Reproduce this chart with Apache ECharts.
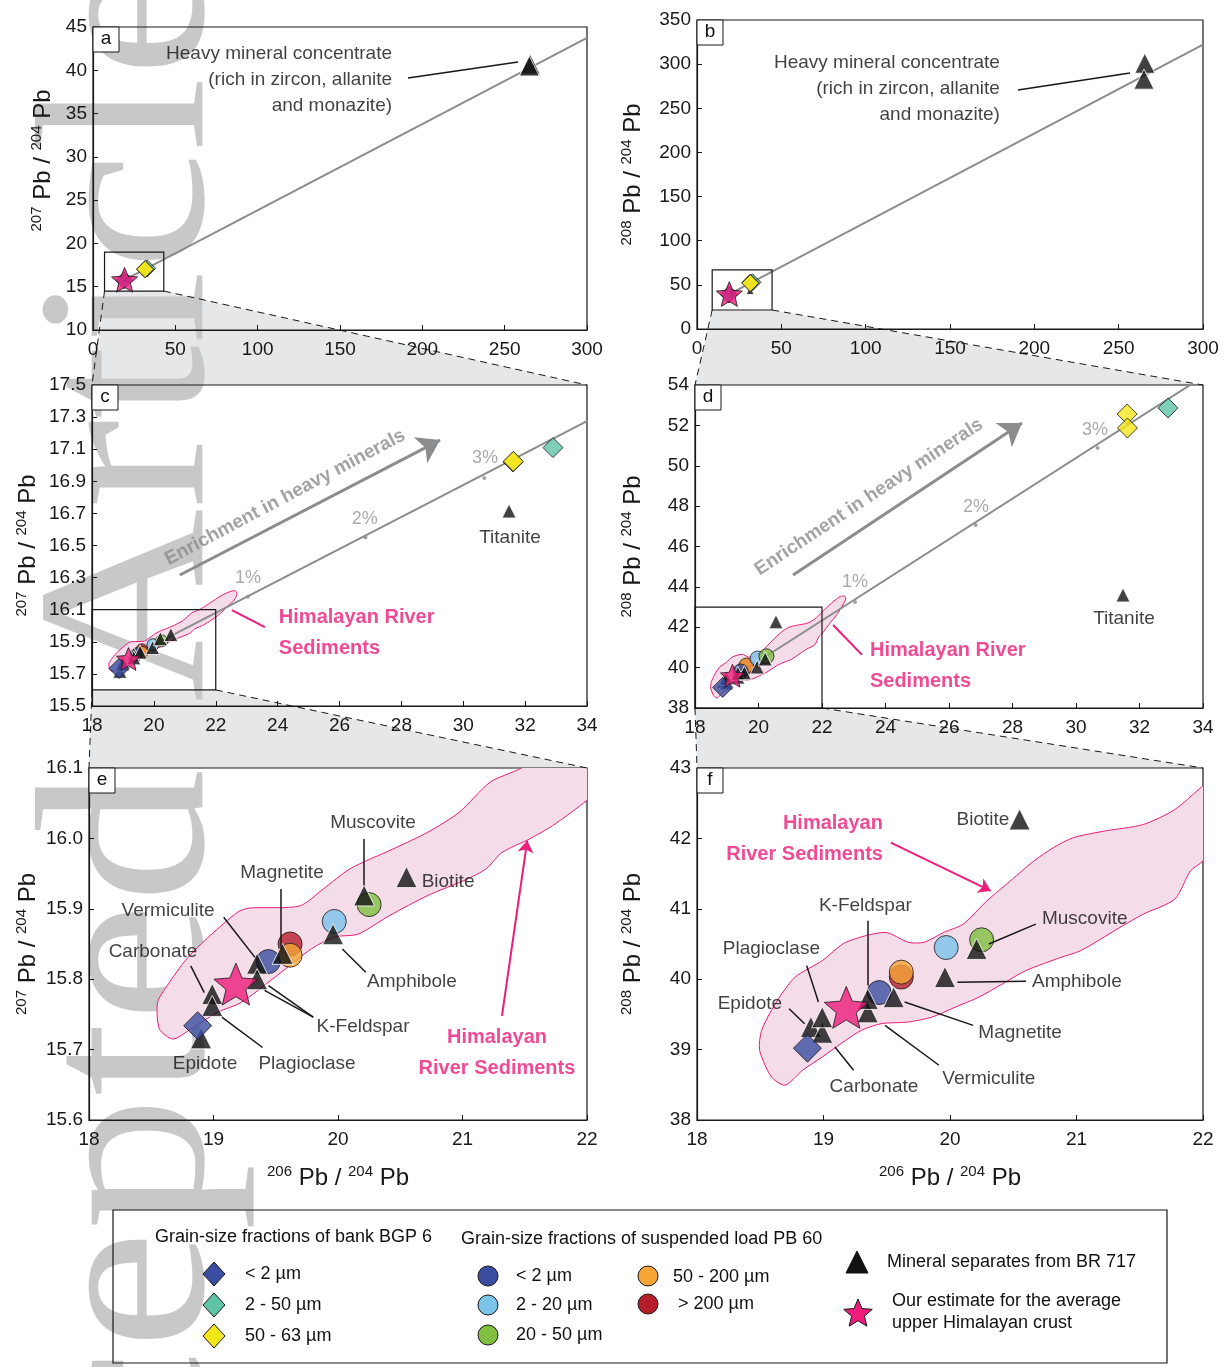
<!DOCTYPE html>
<html>
<head>
<meta charset="utf-8">
<script src="https://cdn.jsdelivr.net/npm/echarts@6/dist/echarts.min.js"></script>
<style>
  html, body { margin: 0; padding: 0; background: #fff; }
  #main { width: 1225px; height: 1367px; }
</style>
</head>
<body>
<div id="main"></div>
<script>
// ---- data (206Pb/204Pb, 207Pb/204Pb, 208Pb/204Pb) ----
// mineral separates from BR 717
var mineralNames = ['Epidote', 'Carbonate', 'Plagioclase', 'Vermiculite', 'K-Feldspar', 'Magnetite',
                    'Amphibole', 'Muscovite', 'Biotite', 'Titanite', 'Concentrate', 'Concentrate'];
var mineral206 = [18.90, 18.99, 18.99, 19.35, 19.35, 19.555, 19.96, 20.21, 20.55, 31.48, 265.5, 265.0];
var mineral207 = [15.716, 15.779, 15.762, 15.822, 15.800, 15.836, 15.864, 15.919, 15.945, 16.715, 40.7, 40.5];
var mineral208 = [39.32, 39.24, 39.46, 39.53, 39.72, 39.745, 40.03, 40.43, 42.27, 43.60, 301, 283];

// grain-size fractions of bank BGP 6
var bankSizes = ['< 2 µm', '2 - 50 µm', '50 - 63 µm', '50 - 63 µm'];
var bank206 = [18.873, 32.90, 31.61, 31.62];
var bank207 = [15.734, 17.110, 17.020, 17.025];
var bank208 = [39.02, 52.86, 52.56, 51.87];

// grain-size fractions of suspended load PB 60
var suspSizes = ['> 200 µm', '50 - 200 µm', '< 2 µm', '2 - 20 µm', '20 - 50 µm'];
var susp206 = [19.615, 19.615, 19.44, 19.97, 20.25];
var susp207 = [15.850, 15.834, 15.825, 15.882, 15.906];
var susp208 = [40.03, 40.10, 39.81, 40.45, 40.56];

// estimate for the average upper Himalayan crust
var crust206 = [19.18];
var crust207 = [15.793];
var crust208 = [39.60];

// mixing line towards the heavy mineral concentrate
var mix206 = [19.18, 300];
var mix207 = [15.80, 43.75];
var mix208 = [39.50, 322];
var mixPct = ['1%', '2%', '3%'];
var mixPct206 = [23.04, 26.84, 30.68];
var mixPct207 = [16.18, 16.55, 16.92];
var mixPct208 = [43.25, 47.07, 50.88];

// Himalayan river sediments envelope
var field206a = [18.676, 18.566, 18.551, 18.629, 18.785, 18.973, 19.192, 19.285, 19.692, 19.880, 20.098, 20.442,
                 20.723, 20.973, 21.223, 21.473, 21.80, 22.20, 22.50, 22.64, 22.68, 22.60, 22.40, 22.20, 22.00,
                 21.723, 21.536, 21.317, 21.192, 21.035, 20.723, 20.410, 20.161, 19.973, 19.786, 19.473,
                 19.223, 19.035, 18.816];
var field207 = [15.715, 15.729, 15.767, 15.791, 15.829, 15.862, 15.895, 15.901, 15.904, 15.928, 15.957, 15.985,
                16.009, 16.037, 16.080, 16.100, 16.140, 16.190, 16.215, 16.218, 16.195, 16.160, 16.125, 16.085,
                16.054, 16.018, 15.999, 15.980, 15.957, 15.942, 15.919, 15.890, 15.864, 15.860, 15.843, 15.800,
                15.767, 15.753, 15.729];
var field206b = [18.697, 18.588, 18.495, 18.511, 18.619, 18.774, 18.991, 19.176, 19.486, 19.672, 19.796, 19.950,
                 20.105, 20.291, 20.446, 20.663, 20.817, 20.972, 21.220, 21.529, 21.777, 21.994, 22.30, 22.55,
                 22.70, 22.75, 22.50, 22.20, 22.00, 21.901, 21.777, 21.529, 21.344, 21.034, 20.879, 20.601,
                 20.415, 20.229, 20.043, 19.858, 19.672, 19.455, 19.300, 19.176, 18.991, 18.836];
var field208 = [38.495, 38.613, 38.991, 39.274, 39.651, 40.028, 40.264, 40.524, 40.665, 40.524, 40.524, 40.665,
                40.783, 41.113, 41.349, 41.679, 41.868, 42.009, 42.104, 42.198, 42.410, 42.740, 43.20, 43.50,
                43.55, 43.40, 42.70, 42.10, 41.679, 41.538, 41.137, 40.925, 40.736, 40.406, 40.311, 40.123,
                39.934, 39.745, 39.604, 39.462, 39.392, 39.368, 39.274, 39.132, 38.896, 38.708];

// axis ticks per panel a..f
var xMin = [0, 0, 18, 18, 18, 18];
var xMax = [300, 300, 34, 34, 22, 22];
var xStep = [50, 50, 2, 2, 1, 1];
var yMin = [10, 0, 15.5, 38, 15.6, 38];
var yMax = [45, 350, 17.5, 54, 16.1, 43];
var yStep = [5, 50, 0.2, 2, 0.1, 1];
var yDigits = [0, 0, 1, 0, 1, 0];
var panelLetters = ['a', 'b', 'c', 'd', 'e', 'f'];

// ---- styling ----
var F = "'Liberation Sans', Arial, sans-serif";
var INK = '#1a1718';
var C = {
  navy: '#3b4da0', teal: '#5fc3a6', yellow: '#f3e61b', sky: '#7cc3ea', green: '#80bf40',
  orange: '#f6a436', red: '#b51f2a', pink: '#ec1d7b', fill: '#f4dce8', grey: '#8b8c8e', wedge: '#e6e7e8'
};
var bankColor = {'< 2 µm': C.navy, '2 - 50 µm': C.teal, '50 - 63 µm': C.yellow};
var suspColor = {'< 2 µm': C.navy, '2 - 20 µm': C.sky, '20 - 50 µm': C.green, '50 - 200 µm': C.orange, '> 200 µm': C.red};
var STAR = 'path://M0,-50 L13.22,-18.2 L47.55,-15.45 L21.4,6.95 L29.39,40.45 L0,22.5 L-29.39,40.45 L-21.4,6.95 L-47.55,-15.45 L-13.22,-18.2 Z';

var grids = [
  {left: 93, top: 27, width: 494, height: 303},
  {left: 697, top: 20, width: 506, height: 309},
  {left: 92, top: 385, width: 495, height: 321},
  {left: 695, top: 385, width: 508, height: 323},
  {left: 89, top: 768, width: 498, height: 352},
  {left: 697, top: 768, width: 506, height: 352}
];
var yNameGap = [36, 50, 50, 48, 47, 50];
var yNamePad = [[0, 0, 0, 36], 0, 0, 0, 0, 0];
var sizes = [
  {tri: 8, big: 20, dia: 17, cir: 8, star: 26},
  {tri: 8, big: 20, dia: 17, cir: 8, star: 26},
  {tri: 14, big: 14, dia: 20, cir: 12, star: 24},
  {tri: 14, big: 14, dia: 20, cir: 15, star: 24},
  {tri: 21, big: 21, dia: 28, cir: 24, star: 44},
  {tri: 21, big: 21, dia: 28, cir: 24, star: 44}
];

var RICH = {
  s: {fontFamily: F, fontSize: 15, color: INK, verticalAlign: 'top', lineHeight: 28},
  p: {fontFamily: F, fontSize: 24, color: INK, lineHeight: 28}
};
function ratioName(top) { return '{s|' + top + '}{p| Pb / }{s|204}{p| Pb}'; }

var chart = echarts.init(document.getElementById('main'));

var gridOpts = [], xAxes = [], yAxes = [], series = [];
for (var i = 0; i < 6; i++) {
  gridOpts.push(Object.assign({show: true, borderColor: INK, borderWidth: 1.2, outerBoundsMode: 'none'}, grids[i]));
  var xa = {
    gridIndex: i, type: 'value', min: xMin[i], max: xMax[i], interval: xStep[i],
    axisLine: {show: true, onZero: false, lineStyle: {color: INK, width: 1.2}},
    axisTick: {show: true, inside: true, length: 5, lineStyle: {color: INK}},
    splitLine: {show: false},
    axisLabel: {fontFamily: F, fontSize: 19, color: INK, margin: 10, showMinLabel: true, showMaxLabel: true}
  };
  if (i >= 4) {
    xa.name = ratioName('206');
    xa.nameLocation = 'middle';
    xa.nameGap = 44;
    xa.nameTextStyle = {rich: RICH};
  }
  xAxes.push(xa);
  (function (d) {
    yAxes.push({
      gridIndex: i, type: 'value', min: yMin[i], max: yMax[i], interval: yStep[i],
      name: ratioName(i % 2 ? '208' : '207'), nameLocation: 'middle', nameGap: yNameGap[i], nameRotate: 90,
      nameTextStyle: {rich: RICH, padding: yNamePad[i]},
      axisLine: {show: true, onZero: false, lineStyle: {color: INK, width: 1.2}},
      axisTick: {show: true, inside: true, length: 5, lineStyle: {color: INK}},
      splitLine: {show: false},
      axisLabel: {fontFamily: F, fontSize: 19, color: INK, margin: 6, showMinLabel: true, showMaxLabel: true,
        formatter: function (v) { return v.toFixed(d); }}
    });
  })(yDigits[i]);
}

function pairs(xs, ys) { return xs.map(function (x, k) { return [x, ys[k]]; }); }

function fieldSeries(i, fx, fy) {
  return {
    type: 'custom', xAxisIndex: i, yAxisIndex: i, clip: true, z: 1, silent: true,
    data: [[fx[0], fy[0]]],
    renderItem: function (params, api) {
      var pts = [];
      for (var k = 0; k < fx.length; k++) pts.push(api.coord([fx[k], fy[k]]));
      return {type: 'polygon', shape: {points: pts, smooth: 0.25},
              style: {fill: C.fill, stroke: C.pink, lineWidth: 1}};
    }
  };
}

function panelSeries(i) {
  var is208 = i % 2 === 1;
  var sz = sizes[i];
  var mY = is208 ? mineral208 : mineral207;
  var bY = is208 ? bank208 : bank207;
  var sY = is208 ? susp208 : susp207;
  var cY = is208 ? crust208 : crust207;
  var out = [];
  out.push(fieldSeries(i, is208 ? field206b : field206a, is208 ? field208 : field207));
  if (i < 4) {
    out.push({type: 'line', xAxisIndex: i, yAxisIndex: i, z: 2, silent: true, showSymbol: false,
      lineStyle: {color: C.grey, width: 2}, data: pairs(mix206, is208 ? mix208 : mix207)});
  }
  if (i === 2 || i === 3) {
    out.push({type: 'scatter', xAxisIndex: i, yAxisIndex: i, z: 2, silent: true, symbol: 'circle', symbolSize: 4,
      itemStyle: {color: C.grey}, data: pairs(mixPct206, is208 ? mixPct208 : mixPct207)});
  }
  out.push({type: 'scatter', xAxisIndex: i, yAxisIndex: i, z: 3, symbol: 'circle', symbolSize: sz.cir,
    data: suspSizes.map(function (s, k) {
      return {name: s, value: [susp206[k], sY[k]], itemStyle: {color: suspColor[s], borderColor: INK, borderWidth: 1}};
    })});
  out.push({type: 'scatter', xAxisIndex: i, yAxisIndex: i, z: 4, symbol: 'triangle',
    symbolSize: function (v) { return v[0] > 100 ? sz.big : sz.tri; },
    itemStyle: {color: '#111', borderColor: '#fff', borderWidth: 1},
    data: mineralNames.map(function (s, k) { return {name: s, value: [mineral206[k], mY[k]]}; })});
  out.push({type: 'scatter', xAxisIndex: i, yAxisIndex: i, z: 5, symbol: 'diamond', symbolSize: sz.dia,
    data: bankSizes.map(function (s, k) {
      return {name: s, value: [bank206[k], bY[k]], itemStyle: {color: bankColor[s], borderColor: INK, borderWidth: 1}};
    })});
  out.push({type: 'scatter', xAxisIndex: i, yAxisIndex: i, z: 6, symbol: STAR, symbolKeepAspect: true,
    symbolSize: sz.star, itemStyle: {color: C.pink, borderColor: INK, borderWidth: 1},
    data: pairs(crust206, cY)});
  return out;
}

// annotations: [text, x, y, align, rotate]
function textSeries(i, items, style) {
  return {
    type: 'scatter', xAxisIndex: i, yAxisIndex: i, z: 8, silent: true, clip: false,
    symbolSize: 1, itemStyle: {color: 'rgba(0,0,0,0)'},
    data: items.map(function (t) {
      return {name: t[0], value: [t[1], t[2]], label: {align: t[3] || 'center', rotate: t[4] || 0}};
    }),
    label: Object.assign({show: true, position: 'inside', formatter: '{b}', fontFamily: F, fontSize: 19,
      color: '#111', verticalAlign: 'middle'}, style)
  };
}
function leaderSeries(i, segs, color, width, arrow) {
  return {
    type: 'lines', coordinateSystem: 'cartesian2d', xAxisIndex: i, yAxisIndex: i, z: 7, silent: true,
    symbol: arrow ? ['none', 'arrow'] : ['none', 'none'], symbolSize: arrow || 0,
    lineStyle: {color: color, width: width, opacity: 1, curveness: 0},
    data: segs.map(function (s) { return {coords: s}; })
  };
}

for (var p = 0; p < 6; p++) series = series.concat(panelSeries(p));

var pinkBold = {color: C.pink, fontWeight: 'bold', fontSize: 20, lineHeight: 31};
var pctStyle = {color: '#939598', fontSize: 18};
var enrichStyle = {color: C.grey, fontWeight: 'bold', fontSize: 19};
var concText = 'Heavy mineral concentrate\n(rich in zircon, allanite\nand monazite)';

// panel a
series.push(textSeries(0, [[concText, 181.6, 38.88, 'right']], {fontSize: 19, lineHeight: 26}));
series.push(leaderSeries(0, [[[191.3, 39.11], [258.1, 40.96]]], INK, 1.5));
// panel b
series.push(textSeries(1, [[concText, 179.6, 271.8, 'right']], {fontSize: 19, lineHeight: 26}));
series.push(leaderSeries(1, [[[190.3, 270.7], [256.7, 290.0]]], INK, 1.5));
// panel c
series.push(textSeries(2, [['Titanite', 31.51, 16.547]]));
series.push(textSeries(2, mixPct.map(function (s, k) { return [s, [23.04, 26.82, 30.70][k], [16.298, 16.665, 17.045][k]]; }), pctStyle));
series.push(textSeries(2, [['Himalayan River\nSediments', 24.04, 15.958, 'left']], pinkBold));
series.push(textSeries(2, [['Enrichment in heavy minerals', 24.24, 16.80, 'center', 28]], enrichStyle));
series.push(leaderSeries(2, [[[23.59, 15.992], [22.52, 16.098]]], C.pink, 2));
series.push(leaderSeries(2, [[[20.84, 16.316], [29.25, 17.157]]], C.grey, 3, 22));
// panel d
series.push(textSeries(3, [['Titanite', 31.51, 42.41]]));
series.push(textSeries(3, mixPct.map(function (s, k) { return [s, [23.04, 26.85, 30.60][k], [44.24, 47.96, 51.77][k]]; }), pctStyle));
series.push(textSeries(3, [['Himalayan River\nSediments', 23.51, 40.10, 'left']], pinkBold));
series.push(textSeries(3, [['Enrichment in heavy minerals', 23.48, 48.45, 'center', 33.5]], enrichStyle));
series.push(leaderSeries(3, [[[23.26, 40.63], [22.35, 42.11]]], C.pink, 2));
series.push(leaderSeries(3, [[[21.09, 44.59], [28.30, 52.12]]], C.grey, 3, 22));
// panel e
series.push(textSeries(4, [
  ['Muscovite', 20.281, 16.022], ['Magnetite', 19.550, 15.951], ['Vermiculite', 18.635, 15.897],
  ['Carbonate', 18.514, 15.839], ['Biotite', 20.884, 15.939], ['Amphibole', 20.594, 15.797],
  ['K-Feldspar', 20.201, 15.732], ['Epidote', 18.932, 15.680], ['Plagioclase', 19.751, 15.680]
]));
series.push(textSeries(4, [['Himalayan\nRiver Sediments', 21.277, 15.695]], pinkBold));
series.push(leaderSeries(4, [
  [[20.207, 15.999], [20.207, 15.933]], [[19.541, 15.928], [19.541, 15.843]],
  [[19.082, 15.888], [19.333, 15.831]], [[18.817, 15.819], [18.926, 15.781]],
  [[20.035, 15.843], [20.223, 15.810]], [[19.801, 15.746], [19.442, 15.791]],
  [[19.801, 15.746], [19.410, 15.784]], [[19.067, 15.746], [19.394, 15.703]]
], INK, 1.5));
series.push(leaderSeries(4, [[[21.317, 15.748], [21.52, 15.997]]], C.pink, 2, 12));
// panel f
series.push(textSeries(5, [
  ['Biotite', 20.26, 42.27], ['K-Feldspar', 19.331, 41.042], ['Muscovite', 21.065, 40.854],
  ['Plagioclase', 18.588, 40.429], ['Amphibole', 21.003, 39.958], ['Epidote', 18.418, 39.651],
  ['Magnetite', 20.554, 39.236], ['Carbonate', 19.399, 38.472], ['Vermiculite', 20.307, 38.590]
]));
series.push(textSeries(5, [['Himalayan\nRiver Sediments', 19.47, 41.998, 'right']], pinkBold));
series.push(leaderSeries(5, [
  [[18.728, 39.58], [18.851, 39.368]], [[18.867, 40.193], [18.960, 39.675]],
  [[19.238, 38.708], [19.090, 39.038]], [[19.347, 40.830], [19.347, 39.910]],
  [[19.913, 38.778], [19.486, 39.344]], [[20.183, 39.344], [19.641, 39.675]],
  [[20.059, 39.958], [20.601, 39.972]], [[20.307, 40.5], [20.678, 40.783]]
], INK, 1.5));
series.push(leaderSeries(5, [[[19.532, 41.939], [20.322, 41.255]]], C.pink, 2, 12));

chart.setOption({
  animation: false,
  backgroundColor: '#fff',
  grid: gridOpts, xAxis: xAxes, yAxis: yAxes, series: series
});

// ---- graphics: watermark, zoom wedges, panel letters, legend ----
var g = [];
g.push({type: 'text', x: 139, y: -42, rotation: Math.PI / 2, scaleY: 0.9, z: -1, silent: true,
  style: {text: 'Accepted Article', font: '268px "Liberation Serif", "DejaVu Serif", serif', fill: '#c8c8c8',
          align: 'right', verticalAlign: 'middle'}});

function px(i, x, y) { return chart.convertToPixel({gridIndex: i}, [x, y]); }
// inset boxes: [panel, x0, x1, y0, y1, target panel]
var insets = [[0, 7, 43, 14.5, 19, 2], [1, 9, 44.5, 21.5, 67, 3], [2, 18, 22, 15.6, 16.1, 4], [3, 18, 22, 38, 43, 5]];
insets.forEach(function (b) {
  var bl = px(b[0], b[1], b[3]), br = px(b[0], b[2], b[3]), tl = px(b[0], b[1], b[4]);
  var t = b[5];
  var ttl = px(t, xMin[t], yMax[t]), ttr = px(t, xMax[t], yMax[t]);
  g.push({type: 'polygon', z: -2, silent: true, shape: {points: [bl, br, ttr, ttl]}, style: {fill: C.wedge}});
  g.push({type: 'line', z: 4, silent: true, shape: {x1: br[0], y1: br[1], x2: ttr[0], y2: ttr[1]},
    style: {stroke: INK, lineWidth: 1, lineDash: [7, 5]}});
  g.push({type: 'line', z: 4, silent: true, shape: {x1: bl[0], y1: bl[1], x2: ttl[0], y2: ttl[1]},
    style: {stroke: INK, lineWidth: 1, lineDash: [7, 5]}});
  g.push({type: 'rect', z: 4, silent: true, shape: {x: tl[0], y: tl[1], width: br[0] - tl[0], height: br[1] - tl[1]},
    style: {fill: 'none', stroke: INK, lineWidth: 1.2}});
});

grids.forEach(function (gr, i) {
  g.push({type: 'rect', z: 4, silent: true, shape: {x: gr.left, y: gr.top, width: 26, height: 25},
    style: {fill: '#fff', stroke: INK, lineWidth: 1}});
  g.push({type: 'text', z: 5, silent: true, x: gr.left + 13, y: gr.top + 12,
    style: {text: panelLetters[i], font: '19px ' + F, fill: '#111', align: 'center', verticalAlign: 'middle'}});
});

function txt(x, y, s) {
  g.push({type: 'text', z: 5, silent: true, x: x, y: y,
    style: {text: s, font: '18px ' + F, fill: '#111', align: 'left', verticalAlign: 'middle'}});
}
function diamond(cx, cy, color) {
  g.push({type: 'polygon', z: 5, silent: true, shape: {points: [[cx, cy - 12], [cx + 11, cy], [cx, cy + 12], [cx - 11, cy]]},
    style: {fill: color, stroke: INK, lineWidth: 1}});
}
function dot(cx, cy, color) {
  g.push({type: 'circle', z: 5, silent: true, shape: {cx: cx, cy: cy, r: 10}, style: {fill: color, stroke: INK, lineWidth: 1}});
}
function starPts(cx, cy, R) {
  var pts = [];
  for (var k = 0; k < 10; k++) {
    var r = k % 2 ? R * 0.45 : R;
    var a = -Math.PI / 2 + k * Math.PI / 5;
    pts.push([cx + r * Math.cos(a), cy + r * Math.sin(a)]);
  }
  return pts;
}

g.push({type: 'rect', z: 4, silent: true, shape: {x: 113, y: 1210, width: 1054, height: 153},
  style: {fill: 'none', stroke: INK, lineWidth: 1.2}});
txt(155, 1237, 'Grain-size fractions of bank BGP 6');
txt(461, 1239, 'Grain-size fractions of suspended load PB 60');
diamond(214, 1274, C.navy); txt(245, 1274, '< 2 µm');
diamond(214, 1305, C.teal); txt(245, 1305, '2 - 50 µm');
diamond(214, 1336, C.yellow); txt(245, 1336, '50 - 63 µm');
dot(488, 1276, C.navy); txt(516, 1276, '< 2 µm');
dot(488, 1305, C.sky); txt(516, 1305, '2 - 20 µm');
dot(488, 1335, C.green); txt(516, 1335, '20 - 50 µm');
dot(648, 1276, C.orange); txt(673, 1277, '50 - 200 µm');
dot(648, 1304, C.red); txt(678, 1304, '> 200 µm');
g.push({type: 'polygon', z: 5, silent: true, shape: {points: [[857, 1251], [868, 1273], [846, 1273]]},
  style: {fill: '#111', stroke: '#111', lineWidth: 1}});
txt(887, 1262, 'Mineral separates from BR 717');
g.push({type: 'polygon', z: 5, silent: true, shape: {points: starPts(858, 1314, 15)},
  style: {fill: C.pink, stroke: INK, lineWidth: 1}});
txt(892, 1301, 'Our estimate for the average');
txt(892, 1323, 'upper Himalayan crust');

chart.setOption({graphic: {elements: g}});
</script>
</body>
</html>
